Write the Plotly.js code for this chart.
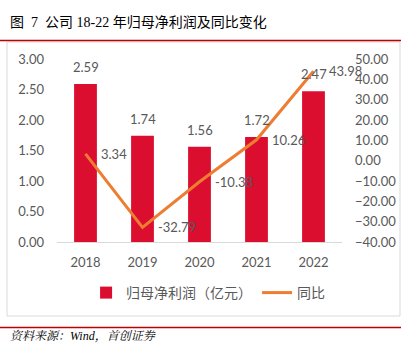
<!DOCTYPE html>
<html><head><meta charset="utf-8">
<script src="https://cdn.plot.ly/plotly-3.0.1.min.js"></script>
<style>html,body{margin:0;padding:0;background:#fff;}#chart{width:408px;height:344px;}</style>
</head><body><div id="chart"></div>
<script>
const years = ['2018','2019','2020','2021','2022'];
const profit = [2.59, 1.74, 1.56, 1.72, 2.47];
const yoy = [3.34, -32.79, -10.38, 10.26, 43.98];
const leftTicks = [0, 0.5, 1, 1.5, 2, 2.5, 3];
const rightTicks = [-40, -30, -20, -10, 0, 10, 20, 30, 40, 50];

const L = 57, R = 342, T = 59, B = 242;
const px = v => (v - L) / (R - L);
const py = v => (B - v) / (B - T);
const gray = '#595959';
const tickFont = {family: 'Lato, "Noto Sans", sans-serif', size: 13, color: gray};

const traces = [
  {type: 'bar', x: years, y: profit, name: '归母净利润（亿元）', marker: {color: '#DB0E30'}, width: 0.4, hoverinfo: 'skip'},
  {type: 'scatter', mode: 'lines', x: years, y: yoy, yaxis: 'y2', name: '同比', line: {color: '#ED7D31', width: 3}, hoverinfo: 'skip'}
];

const ann = [];
years.forEach((yr, i) => {
  ann.push({x: i, y: profit[i], xref: 'x', yref: 'y', text: profit[i].toFixed(2), showarrow: false,
    yanchor: 'bottom', yshift: 7, font: tickFont});
  ann.push({x: i, y: yoy[i], xref: 'x', yref: 'y2', text: yoy[i].toFixed(2), showarrow: false,
    xanchor: 'left', xshift: 13, font: tickFont});
});
ann.push({xref: 'paper', yref: 'paper', x: px(8), y: py(22), xanchor: 'left', yanchor: 'middle', showarrow: false,
  text: '图  7  公司 18-22 年归母净利润及同比变化', font: {family: '"Liberation Serif", "Noto Sans CJK SC", serif', size: 14, color: '#000'}});
ann.push({xref: 'paper', yref: 'paper', x: px(8), y: py(336), xanchor: 'left', yanchor: 'middle', showarrow: false,
  text: '<i>资料来源：Wind，首创证券</i>', font: {family: '"Liberation Serif", "Noto Serif CJK SC", "Noto Sans CJK SC", serif', size: 12, color: '#000'}});

const shapes = [
  {type: 'rect', xref: 'paper', yref: 'paper', x0: px(7), x1: px(400), y0: py(42), y1: py(316), line: {color: '#D9D9D9', width: 1}, fillcolor: 'rgba(0,0,0,0)', layer: 'below'},
  {type: 'line', xref: 'paper', yref: 'paper', x0: px(0), x1: px(401), y0: py(40.5), y1: py(40.5), line: {color: '#C00000', width: 1.5}},
  {type: 'line', xref: 'paper', yref: 'paper', x0: px(0), x1: px(401), y0: py(327.5), y1: py(327.5), line: {color: '#C00000', width: 1.5}}
];

const layout = {
  width: 408, height: 344,
  margin: {l: L, r: 408 - R, t: T, b: 344 - B},
  paper_bgcolor: '#fff', plot_bgcolor: '#fff',
  showlegend: true,
  legend: {orientation: 'h', xref: 'container', yref: 'container', x: 0.51, y: 1 - 293/344, xanchor: 'center', yanchor: 'middle',
    font: {family: '"Noto Sans CJK SC", sans-serif', size: 14, color: gray}, itemwidth: 30},
  xaxis: {type: 'category', range: [-0.5, 4.5], autorange: false, tickfont: tickFont, showgrid: false, zeroline: false, showline: true, linecolor: '#D9D9D9', linewidth: 1,
    ticks: '', ticklabelstandoff: 8, fixedrange: true},
  yaxis: {range: [0, 3], autorange: false, tickvals: leftTicks, tickformat: '.2f', tickfont: tickFont, showgrid: false, zeroline: false,
    showline: false, ticks: '', ticklabelstandoff: 12},
  yaxis2: {range: [-40, 50], autorange: false, tickvals: rightTicks, tickformat: '.2f', overlaying: 'y', side: 'right', tickfont: tickFont,
    showgrid: false, zeroline: false, showline: false, ticks: '', ticklabelstandoff: 12},
  annotations: ann, shapes: shapes
};

Plotly.newPlot('chart', traces, layout, {staticPlot: true, displayModeBar: false});
</script></body></html>
